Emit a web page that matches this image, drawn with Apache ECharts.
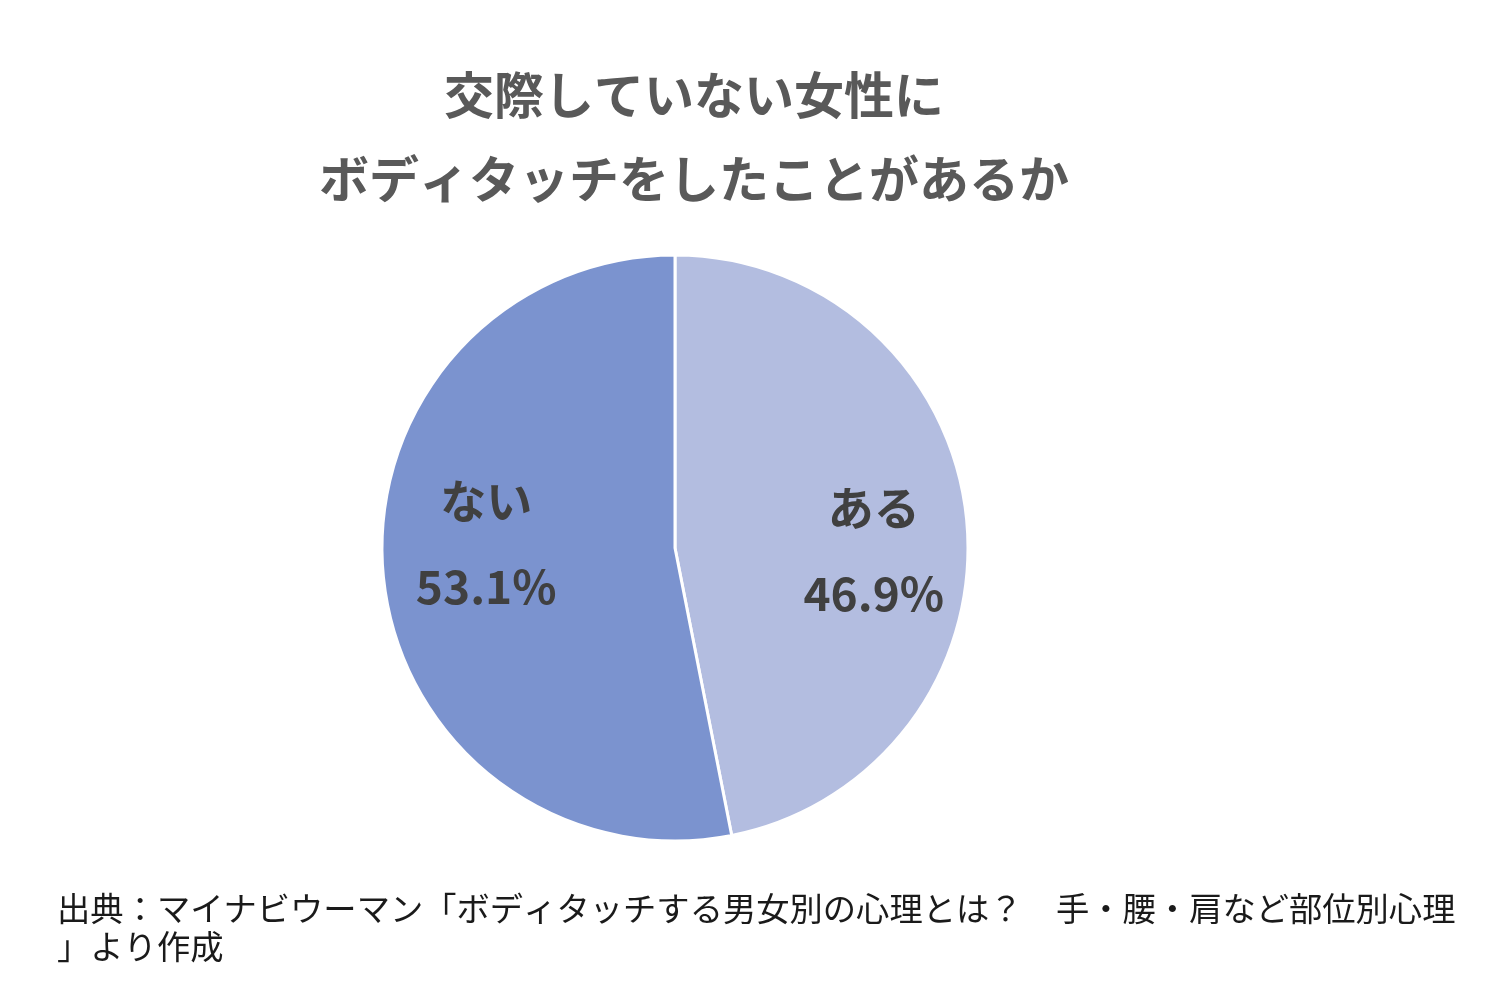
<!DOCTYPE html>
<html>
<head>
<meta charset="utf-8">
<script src="https://cdn.jsdelivr.net/npm/echarts@6/dist/echarts.min.js"></script>
<style>html,body{margin:0;padding:0;background:#fff;}#main{width:1487px;height:991px;}</style>
</head>
<body>
<div id="main"></div>
<script>
const titleLines = ['交際していない女性に', 'ボディタッチをしたことがあるか'];
const categories = ['ある', 'ない'];
const values = [46.9, 53.1];
const colors = ['#b3bde0', '#7b93cf'];
const sourceLines = ['出典：マイナビウーマン「ボディタッチする男女別の心理とは？　手・腰・肩など部位別心理', '」より作成'];

const labelOffsets = [[50, 17], [-40, -19]];
const chart = echarts.init(document.getElementById('main'));
chart.setOption({
  backgroundColor: '#ffffff',
  animation: false,
  title: [
    {
      text: titleLines.join('\n'),
      left: 689, top: 48, textAlign: 'center',
      textStyle: { fontFamily: 'Noto Sans CJK JP', fontSize: 50, fontWeight: 'bold', color: '#595959', lineHeight: 84 }
    },
    {
      text: sourceLines.join('\n'),
      left: 52, top: 884,
      textStyle: { fontFamily: 'Noto Sans CJK JP', fontSize: 33.3, fontWeight: 'normal', color: '#1a1a1a', lineHeight: 38 }
    }
  ],
  series: [{
    type: 'pie',
    center: [675, 548],
    radius: 293,
    startAngle: 90,
    clockwise: true,
    silent: true,
    itemStyle: { borderColor: '#ffffff', borderWidth: 3 },
    label: {
      show: true,
      position: 'inside',
      formatter: p => p.name + '\n' + p.value.toFixed(1) + '%',
      fontFamily: 'Noto Sans CJK JP',
      fontSize: 46,
      fontWeight: 'bold',
      color: '#404040',
      lineHeight: 86
    },
    labelLine: { show: false },
    data: categories.map((c, i) => ({
      name: c, value: values[i],
      itemStyle: { color: colors[i] },
      label: { offset: labelOffsets[i] }
    }))
  }]
});
</script>
</body>
</html>
